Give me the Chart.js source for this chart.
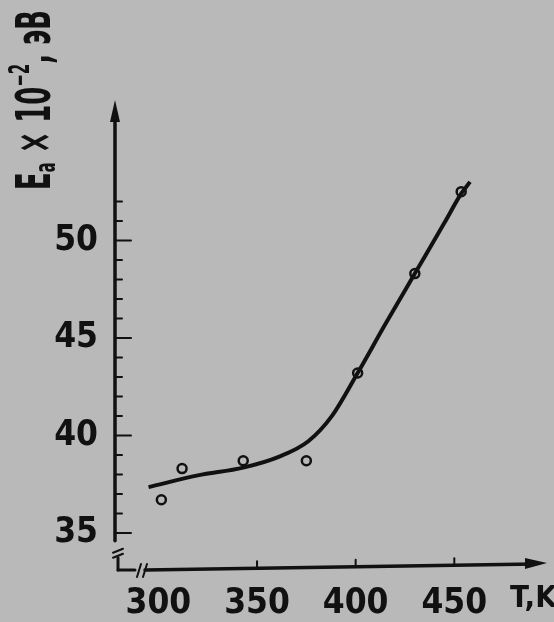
<!DOCTYPE html>
<html lang="ru">
<head>
<meta charset="UTF-8">
<title>Ea от T</title>
<script src="https://cdn.jsdelivr.net/npm/chart.js"></script>
<style>
  html, body { margin: 0; padding: 0; background: #b9b9b9; }
  #wrap { width: 554px; height: 622px; }
</style>
</head>
<body>
<div id="wrap"><canvas id="chart"></canvas></div>
<script>
// measured points (open circles)
const measuredT = [301.5, 312, 343, 375, 401, 430, 453.5];
const measuredE = [36.7, 38.3, 38.7, 38.7, 43.2, 48.3, 52.5];

// hand-drawn smooth curve
const curveT = [295, 320, 343, 361, 376, 388, 401, 415, 430, 445, 453.5, 458];
const curveE = [37.35, 37.95, 38.35, 38.9, 39.7, 41.0, 43.2, 45.7, 48.3, 50.9, 52.4, 53.0];

const xTicks = [300, 350, 400, 450];
const yTicks = [35, 40, 45, 50];
const yMinor = [35, 36, 37, 38, 39, 40, 41, 42, 43, 44, 45, 46, 47, 48, 49, 50, 51, 52];

const ink = "#111";
const FONT = "'Liberation Sans Narrow', 'DejaVu Sans Condensed', sans-serif";

function line(ctx, x1, y1, x2, y2) {
    ctx.beginPath();
    ctx.moveTo(x1, y1);
    ctx.lineTo(x2, y2);
    ctx.stroke();
}

function drawYTitle(ctx) {
    const big = "bold 48px " + FONT, small = "bold 28px " + FONT;
    const parts = [["E", big, 0], ["a", small, 10], [" × 10", big, 0], ["−2", small, -16], [", эВ", big, 0]];
    ctx.save();
    ctx.translate(38, 100);
    ctx.rotate(-Math.PI / 2);
    let w = 0;
    parts.forEach(p => { ctx.font = p[1]; w += ctx.measureText(p[0]).width; });
    ctx.scale(180 / w, 1);
    ctx.textBaseline = "middle";
    ctx.textAlign = "left";
    ctx.fillStyle = ink;
    let x = -w / 2;
    parts.forEach(p => {
        ctx.font = p[1];
        ctx.fillText(p[0], x, p[2]);
        x += ctx.measureText(p[0]).width;
    });
    ctx.restore();
}

// axes with arrows, inner ticks and break marks, drawn like the original
const handAxes = {
    id: "handAxes",
    afterDraw(chart) {
        const { ctx, chartArea: a, scales: { x, y } } = chart;
        ctx.save();
        ctx.strokeStyle = ink;
        ctx.fillStyle = ink;
        ctx.lineWidth = 3.5;
        ctx.lineCap = "round";

        // y axis
        const yEnd = y.getPixelForValue(34.6);
        line(ctx, a.left, a.top + 10, a.left, yEnd);
        ctx.beginPath();
        ctx.moveTo(a.left, a.top);
        ctx.lineTo(a.left - 5, a.top + 22);
        ctx.lineTo(a.left + 5, a.top + 22);
        ctx.closePath();
        ctx.fill();
        yMinor.forEach(v => {
            const py = y.getPixelForValue(v);
            const len = yTicks.includes(v) ? 16 : 7;
            ctx.lineWidth = 2;
            line(ctx, a.left, py, a.left + len, py);
        });

        // break at the corner
        ctx.lineWidth = 2;
        line(ctx, a.left - 2, yEnd + 12, a.left + 8, yEnd + 8);
        line(ctx, a.left - 2, yEnd + 17, a.left + 8, yEnd + 13);
        ctx.lineWidth = 3;
        line(ctx, a.left + 3, yEnd + 17, a.left + 3, a.bottom);
        line(ctx, a.left + 3, a.bottom, a.left + 20, a.bottom);
        ctx.lineWidth = 2;
        line(ctx, a.left + 22, a.bottom + 7, a.left + 26, a.bottom - 6);
        line(ctx, a.left + 28, a.bottom + 7, a.left + 32, a.bottom - 6);

        // x axis
        ctx.lineWidth = 3.5;
        line(ctx, a.left + 30, a.bottom, a.right - 12, a.bottom - 6);
        ctx.beginPath();
        ctx.moveTo(a.right, a.bottom - 7);
        ctx.lineTo(a.right - 22, a.bottom - 12);
        ctx.lineTo(a.right - 22, a.bottom - 1);
        ctx.closePath();
        ctx.fill();
        ctx.lineWidth = 2;
        xTicks.slice(1).forEach(v => {
            const px = x.getPixelForValue(v);
            const py = a.bottom - 6 * (px - a.left - 30) / (a.right - a.left - 42);
            line(ctx, px, py, px, py - 7);
        });

        // axis titles
        drawYTitle(ctx);
        ctx.font = "bold 31px " + FONT;
        ctx.textAlign = "left";
        ctx.textBaseline = "alphabetic";
        ctx.fillText("T,K", 510, 607);
        ctx.restore();
    }
};

new Chart(document.getElementById("chart"), {
    type: "scatter",
    data: {
        datasets: [
            {
                type: "line",
                data: curveT.map((t, i) => ({ x: t, y: curveE[i] })),
                borderColor: ink,
                borderWidth: 4,
                pointRadius: 0,
                cubicInterpolationMode: "monotone",
                fill: false
            },
            {
                data: measuredT.map((t, i) => ({ x: t, y: measuredE[i] })),
                pointRadius: 4.5,
                pointBorderWidth: 2.5,
                pointBackgroundColor: "rgba(0,0,0,0)",
                pointBorderColor: ink
            }
        ]
    },
    options: {
        responsive: true,
        maintainAspectRatio: false,
        animation: false,
        layout: { padding: { top: 100, right: 6, left: 0, bottom: 0 } },
        plugins: { legend: { display: false }, tooltip: { enabled: false } },
        scales: {
            x: {
                type: "linear",
                min: 278,
                max: 497,
                afterFit: s => { s.height = 52; },
                afterBuildTicks: s => { s.ticks = xTicks.map(v => ({ value: v })); },
                grid: { display: false },
                border: { display: false },
                ticks: { color: ink, padding: 5, font: { family: FONT, size: 35, weight: "bold" } }
            },
            y: {
                min: 33.1,
                max: 57.2,
                afterFit: s => { s.width = 115; },
                afterBuildTicks: s => { s.ticks = yTicks.map(v => ({ value: v })); },
                grid: { display: false },
                border: { display: false },
                ticks: { color: ink, padding: 9, font: { family: FONT, size: 35, weight: "bold" } }
            }
        }
    },
    plugins: [handAxes]
});
</script>
</body>
</html>
